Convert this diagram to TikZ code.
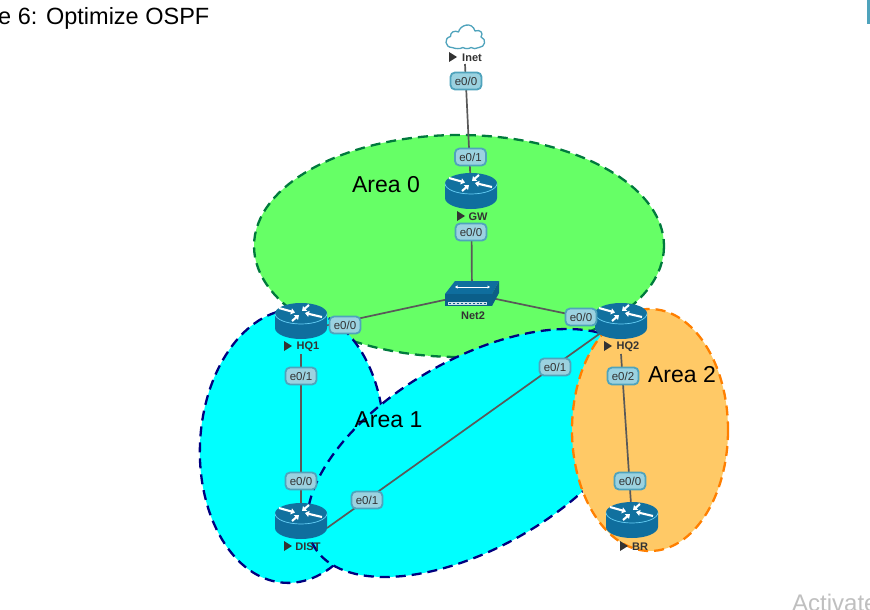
\documentclass[tikz,border=0pt]{standalone}
\usepackage{fontspec}
\setmainfont{Liberation Sans}
\usetikzlibrary{arrows.meta}
\definecolor{routerblue}{HTML}{0F6E9E}
\definecolor{routerdark}{HTML}{0B5F8A}
\definecolor{routertop}{HTML}{11719F}
\definecolor{portfill}{HTML}{9BD2E0}
\definecolor{portedge}{HTML}{4FA3BC}
\definecolor{linkgray}{HTML}{595959}
\definecolor{greenarea}{HTML}{66FF66}
\definecolor{greenedge}{HTML}{007A3D}
\definecolor{cyanarea}{HTML}{00FFFF}
\definecolor{navyedge}{HTML}{00007F}
\definecolor{orangearea}{HTML}{FFC966}
\definecolor{orangeedge}{HTML}{FF7F00}
\definecolor{labeltext}{HTML}{333333}
\tikzset{
  x=1pt,y=-1pt,
  area/.style={line width=2.3pt,dash pattern=on 10pt off 6pt},
  link/.style={draw=linkgray,line width=1.7pt},
  port/.style={draw=portedge,fill=portfill,line width=1.8pt,rounded corners=4.5pt,
    minimum width=31pt,minimum height=17pt,inner sep=0pt,text=labeltext,
    font=\fontsize{11.5}{13}\selectfont},
  devlabel/.style={inner sep=0pt,text=labeltext,font=\fontsize{11}{12}\selectfont\bfseries},
  arealabel/.style={inner sep=0pt,text=black,font=\fontsize{23}{27}\selectfont},
  router/.pic={
    \fill[routerblue] (-26,-6.5) -- (-26,8) arc[x radius=26,y radius=11,start angle=180,end angle=0]
      -- (26,-6.5) -- cycle;
    \fill[routertop] (0,-6.5) ellipse[x radius=26,y radius=10.5];
    \draw[cyan!60!white,line width=.7pt] (-26,-6.5) arc[x radius=26,y radius=10.5,start angle=180,end angle=0];
    \begin{scope}[white,line width=2.1pt,-{Triangle[length=4pt,width=6pt]}]
      \draw (-22,-12) -- (-6,-7.5);
      \draw (21,-3) -- (4,-7);
      \draw (8,-15) -- (1,-9);
      \draw (-9,1) -- (-2,-5);
    \end{scope}
  },
  marker/.pic={\fill[labeltext] (0,-5) -- (8,0) -- (0,5) -- cycle;},
}
\begin{document}
\begin{tikzpicture}
\useasboundingbox (0,0) rectangle (870,610);
\clip (0,0) rectangle (870,610);
\fill[white] (0,0) rectangle (870,610);

% areas
\draw[area,draw=greenedge,fill=greenarea] (459,246) ellipse[x radius=205,y radius=111];
\draw[area,draw=navyedge,fill=cyanarea,rotate around={-3:(292,446)}] (292,446) ellipse[x radius=92,y radius=137];
\draw[area,draw=navyedge,fill=cyanarea,rotate around={30:(476,453)}] (476,453) ellipse[x radius=187,y radius=94];
\draw[area,draw=orangeedge,fill=orangearea] (650,430) ellipse[x radius=78,y radius=121];

% anchors
\coordinate (inet) at (465,64);
\coordinate (gw) at (471,190);
\coordinate (gws) at (471.5,225);
\coordinate (net2) at (472,294);
\coordinate (hq1) at (301,331);
\coordinate (hq1s) at (301,354);
\coordinate (hq2) at (621,325);
\coordinate (hq2d) at (621,318.5);
\coordinate (hq2s) at (621,354);
\coordinate (dist) at (301,520);
\coordinate (distp) at (327,528);
\coordinate (br) at (632,519);

% links
\draw[link] (inet) -- (gw);
\draw[link] (gws) -- (net2);
\draw[link] (net2) -- (hq1);
\draw[link] (net2) -- (hq2);
\draw[link] (hq1s) -- (dist);
\draw[link] (hq2s) -- (br);
\draw[link] (hq2d) -- (distp);

% cloud
\draw[draw=portedge,fill=white,line width=1.3pt,line join=round]
  (452,47.5) .. controls (445,47.5) and (443.5,38) .. (450.5,36.5)
  .. controls (450,32) and (455,30) .. (458.5,32)
  .. controls (460,25) and (472,21) .. (475,31)
  .. controls (480,29) and (484,33) .. (481,37)
  .. controls (487,39) and (485,47.5) .. (479,47.5)
  .. controls (476,49) and (473,49) .. (471,47.5)
  .. controls (469,49) and (465,49) .. (463,47.5)
  .. controls (460,49) and (456,49) .. (452,47.5) -- cycle;

% routers
\pic at (471,190) {router};
\pic at (301,320) {router};
\pic at (621,320) {router};
\pic at (301,520) {router};
\pic at (632,519) {router};

% switch
\fill[routerblue] (445,294) -- (455,281) -- (499,281) -- (492,294) -- cycle;
\fill[routerdark] (445,294) rectangle (492,306);
\fill[routerblue!85!black] (492,294) -- (499,281) -- (499,293) -- (492,306) -- cycle;
\draw[white,line width=.8pt,{Triangle[length=2.5pt,width=3pt]}-{Triangle[length=2.5pt,width=3pt]}] (455,287) -- (490,287);
\foreach \i in {0,...,9}{\draw[white!80!routerblue,line width=.5pt] (448.5+\i*3.9,302) rectangle +(3,2.5);}

% device labels
\pic at (449,57) {marker};
\node[devlabel] (inetl) at (472,57.5) {Inet};
\pic at (457,216) {marker};
\node[devlabel] (gwl) at (478,216.5) {GW};
\node[devlabel] (net2l) at (473,316) {Net2};
\pic at (284,346) {marker};
\node[devlabel] (hq1l) at (308,346.5) {HQ1};
\pic at (604,346) {marker};
\node[devlabel] (hq2l) at (628,346.5) {HQ2};
\pic at (284,546) {marker};
\node[devlabel] (distl) at (308,546.5) {DIST};
\pic at (620,546) {marker};
\node[devlabel] (brl) at (640,546.5) {BR};

% ports
\node[port] (p1) at (466,81) {e0/0};
\node[port] (p2) at (470.5,157) {e0/1};
\node[port] (p3) at (471,232) {e0/0};
\node[port] (p4) at (345,325) {e0/0};
\node[port] (p5) at (581,317) {e0/0};
\node[port] (p6) at (555,367) {e0/1};
\node[port] (p7) at (301,376) {e0/1};
\node[port] (p8) at (623,376) {e0/2};
\node[port] (p9) at (301,481) {e0/0};
\node[port] (p10) at (367,500) {e0/1};
\node[port] (p11) at (630,481) {e0/0};

% area labels
\node[arealabel] (a0) at (386,184.5) {Area 0};
\node[arealabel] (a1) at (388.5,419.5) {Area 1};
\node[arealabel] (a2) at (682,374.5) {Area 2};

% page furniture
\node[anchor=base west,inner sep=0pt,text=black,font=\fontsize{23.5}{28}\selectfont] (title) at (-2,25) {e 6: Optimize OSPF};
\fill[portedge] (867,0) rectangle (870,24);
\node[anchor=base west,inner sep=0pt,text=black!25,font=\fontsize{24}{28}\selectfont] (act) at (792,611) {Activate};
\end{tikzpicture}
\end{document}
